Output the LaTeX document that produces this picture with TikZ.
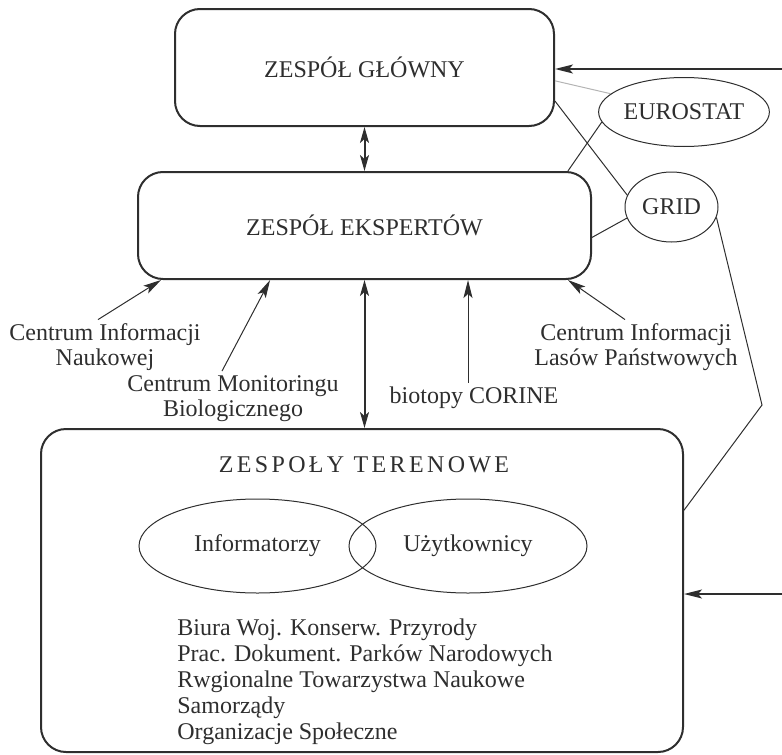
\documentclass[tikz,border=0pt]{standalone}
\usepackage{fontspec}
\setmainfont{Liberation Serif}
\usepackage{tikz}
\usetikzlibrary{shapes,arrows.meta,positioning,calc}
\definecolor{znInk}{HTML}{2E2E2E}
\definecolor{znFaint}{HTML}{B4B4B4}
\tikzset{
  zbox/.style={draw=znInk, line width=1pt, rounded corners=12.5pt, inner sep=0pt, font=\fontsize{12}{12.5}\selectfont, text=znInk},
  zell/.style={ellipse, draw=znInk, line width=0.5pt, inner sep=0pt, font=\fontsize{12}{12.5}\selectfont, text=znInk},
  zlbl/.style={inner sep=2pt, align=center, font=\fontsize{12}{12.5}\selectfont, text=znInk},
  arr/.style={-{Stealth[length=9pt, width=4.5pt, inset=2pt]}, line width=0.5pt, draw=znInk},
  darr/.style={{Stealth[length=8pt, width=4.5pt, inset=2pt]}-{Stealth[length=8pt, width=4.5pt, inset=2pt]}, line width=1pt, draw=znInk},
  lnk/.style={line width=0.5pt, draw=znInk},
}
\begin{document}
\begin{tikzpicture}[x=0.5pt, y=-0.5pt]
            \useasboundingbox (0,0) rectangle (782,755);
            \node[zbox, minimum width=189.5pt, minimum height=58.5pt] (glowny) at (364.5,67.5) {ZESPÓŁ GŁÓWNY};
            \node[zbox, minimum width=226.5pt, minimum height=53.5pt] (eksp) at (364.5,225.5) {ZESPÓŁ EKSPERTÓW};
            \node[zbox, minimum width=321pt, minimum height=161.5pt] (teren) at (362,590.5) {};
            \node[zell, minimum width=83pt, minimum height=34.5pt] (euro) at (684,112) {EUROSTAT};
            \node[zell, minimum width=46.5pt, minimum height=35pt] (grid) at (671.5,207) {GRID};
            \node[zlbl, inner sep=0pt, font=\fontsize{12}{12.5}\selectfont\addfontfeature{LetterSpace=14}] (tytul) at (364,465) {ZESPOŁY TERENOWE};
            \node[zell, minimum width=118.5pt, minimum height=47pt] (inf) at (257.5,546) {Informatorzy};
            \node[zell, minimum width=119pt, minimum height=47pt] (uzyt) at (468,546) {Użytkownicy};
            \node[zlbl, inner sep=0pt, align=left, anchor=west, font=\fontsize{12}{13}\selectfont] (lista) at (177,682) {Biura Woj. Konserw. Przyrody\\Prac. Dokument. Parków Narodowych\\Rwgionalne Towarzystwa Naukowe\\Samorządy\\Organizacje Społeczne};
            \node[zlbl] (cin) at (105,347.5) {Centrum Informacji\\Naukowej};
            \node[zlbl] (cmb) at (233,398.5) {Centrum Monitoringu\\Biologicznego};
            \node[zlbl] (bio) at (474,398) {biotopy CORINE};
            \node[zlbl] (cil) at (636,347.5) {Centrum Informacji\\Lasów Państwowych};
            \coordinate (wejG) at (782,69);
            \coordinate (wejT) at (782,594);
            \coordinate (zalom) at (762,405);
            \draw[arr, line width=0.8pt] (wejG) -- (wejG -| glowny.east); \draw[arr, line width=0.8pt] (wejT) -- (wejT -| teren.east);
            \draw[darr] (glowny.south) -- (eksp.north); \draw[darr] (eksp.south) -- (eksp.south |- teren.north);
            \draw[lnk, draw=znFaint] (glowny.-4) -- (euro.166);
            \draw[lnk] (glowny.-10.6) -- (grid.165);
            \draw[lnk] (euro.187) -- (eksp.15.3);
            \draw[lnk] (eksp.-3) -- (grid.194);
            \draw[lnk] (grid.-13) -- (zalom) -- (teren.14);
            \draw[arr] ([xshift=-3.5pt]cin.north) -- (eksp.195.5);
            \draw[arr] ([xshift=-5.5pt]cmb.north) -- (eksp.210);
            \draw[arr] ([xshift=-3pt]bio.north) -- ([xshift=-3pt]bio.north |- eksp.south);
            \draw[arr] ([xshift=-5.5pt]cil.north) -- (eksp.-15.5);
        \end{tikzpicture}
\end{document}
